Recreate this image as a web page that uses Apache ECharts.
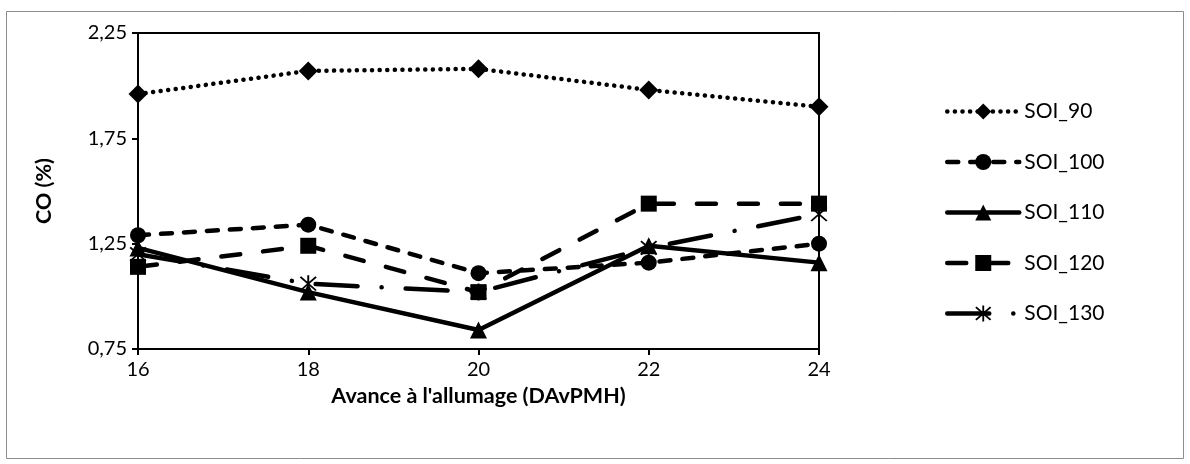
<!DOCTYPE html>
<html>
<head>
<meta charset="utf-8">
<script src="https://cdn.jsdelivr.net/npm/echarts@6/dist/echarts.min.js"></script>
<style>html,body{margin:0;padding:0;background:#fff}#c{width:1190px;height:464px}</style>
</head>
<body>
<div id="c"></div>
<script>
const categories = ['16', '18', '20', '22', '24'];
const soi90  = [1.96, 2.07, 2.08, 1.98, 1.90];
const soi100 = [1.29, 1.34, 1.11, 1.16, 1.25];
const soi110 = [1.23, 1.02, 0.84, 1.24, 1.16];
const soi120 = [1.14, 1.24, 1.02, 1.44, 1.44];
const soi130 = [1.20, 1.06, 1.02, 1.23, 1.39];
const seriesNames = ['SOI_90', 'SOI_100', 'SOI_110', 'SOI_120', 'SOI_130'];
const xTitle = "Avance à l'allumage (DAvPMH)";
const yTitle = 'CO (%)';

const FONT = 'Lato';
const star = 'path://M9,0 L11,0 L11,20 L9,20 Z M2.7,1.3 L18.7,17.3 L17.3,18.7 L1.3,2.7 Z M17.3,1.3 L18.7,2.7 L2.7,18.7 L1.3,17.3 Z';

function mk(name, data, symbol, size, type) {
  return {
    name: name, type: 'line', data: data,
    symbol: symbol, symbolSize: size, showSymbol: true,
    itemStyle: { color: '#000' },
    lineStyle: { color: '#000', width: 4.5, type: type, cap: 'round' },
    emphasis: { disabled: true }
  };
}

const chart = echarts.init(document.getElementById('c'), null, { renderer: 'canvas' });
chart.setOption({
  animation: false,
  backgroundColor: '#fff',
  textStyle: { fontFamily: FONT, color: '#000' },
  graphic: [{
    type: 'rect', shape: { x: 6.5, y: 11.5, width: 1177, height: 447 },
    style: { fill: 'none', stroke: '#8c8c8c', lineWidth: 1 }, silent: true
  }],
  grid: { left: 138, right: 371, top: 33, bottom: 115, show: true, borderColor: '#000', borderWidth: 2, backgroundColor: 'transparent' },
  legend: {
    orient: 'vertical', left: 940, top: 96,
    itemWidth: 72, itemHeight: 20, itemGap: 29.5,
    lineStyle: { width: 4.5, cap: 'round' },
    textStyle: { fontFamily: FONT, fontSize: 21, color: '#000' },
    data: seriesNames
  },
  xAxis: {
    type: 'category', data: categories, boundaryGap: false,
    name: xTitle, nameLocation: 'middle', nameGap: 35,
    nameTextStyle: { fontFamily: FONT, fontSize: 21.5, fontWeight: 'bold', color: '#000' },
    axisLine: { lineStyle: { color: '#000', width: 2 } },
    axisTick: { show: true, alignWithLabel: true, length: 6, lineStyle: { color: '#000', width: 2 } },
    axisLabel: { fontFamily: FONT, fontSize: 20, color: '#000', margin: 11 },
    splitLine: { show: false }
  },
  yAxis: {
    type: 'value', min: 0.75, max: 2.25, interval: 0.5,
    name: yTitle, nameLocation: 'middle', nameGap: 83, nameRotate: 90,
    nameTextStyle: { fontFamily: FONT, fontSize: 21.5, fontWeight: 'bold', color: '#000' },
    axisLine: { show: true, lineStyle: { color: '#000', width: 2 } },
    axisTick: { show: true, length: 6, lineStyle: { color: '#000', width: 2 } },
    axisLabel: { fontFamily: FONT, fontSize: 20, color: '#000', margin: 11,
      formatter: v => v.toFixed(2).replace('.', ',') },
    splitLine: { show: false }
  },
  series: [
    mk(seriesNames[0], soi90, 'diamond', 19, [0.1, 7.5]),
    mk(seriesNames[1], soi100, 'circle', 16, [11, 12]),
    mk(seriesNames[2], soi110, 'triangle', 17, 'solid'),
    mk(seriesNames[3], soi120, 'rect', 16, [19, 23]),
    mk(seriesNames[4], soi130, star, 17, [42, 24, 0.1, 24])
  ]
});
</script>
</body>
</html>
